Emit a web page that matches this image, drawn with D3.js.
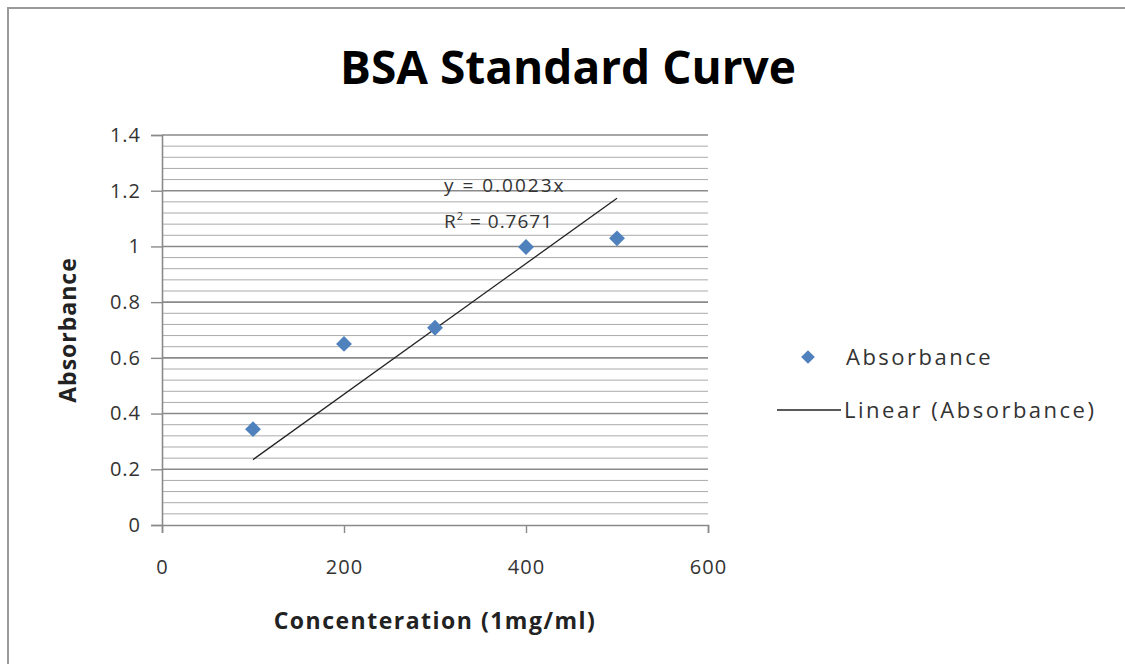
<!DOCTYPE html>
<html>
<head>
<meta charset="utf-8">
<script src="https://cdn.jsdelivr.net/npm/d3@7"></script>
<style>
  body { margin: 0; background: #fff; }
  svg { display: block; font-family: "Open Sans", sans-serif; }
</style>
</head>
<body>
<div id="chart"></div>
<script>
// data
const concentrations = [100, 200, 300, 400, 500];
const absorbance = [0.344, 0.65, 0.708, 0.998, 1.029];
const xTicks = [0, 200, 400, 600];
const yTicks = [0, 0.2, 0.4, 0.6, 0.8, 1, 1.2, 1.4];
const rSquared = "0.7671";

const W = 1125, H = 664;
const margin = { top: 135, left: 162, right: 417, bottom: 139 };
const width = W - margin.left - margin.right,
      height = H - margin.top - margin.bottom;

const svg = d3.select("#chart").append("svg")
    .attr("width", W).attr("height", H);

// outer chart border (runs off right/bottom)
svg.append("path")
    .attr("d", "M8,700 L8,8 L1140,8")
    .attr("fill", "none").attr("stroke", "#9a9a9a").attr("stroke-width", 2);

svg.append("text")
    .attr("x", 568).attr("y", 84)
    .attr("text-anchor", "middle")
    .style("font-size", "46px").style("font-weight", "bold")
    .text("BSA Standard Curve");

const g = svg.append("g").attr("transform", `translate(${margin.left},${margin.top})`);

const x = d3.scaleLinear().domain([0, 600]).range([0, width]);
const y = d3.scaleLinear().domain([0, 1.4]).range([height, 0]);

// minor gridlines every 0.04
const minor = d3.range(0, 1.4001, 0.04).filter(v => Math.abs(v / 0.2 - Math.round(v / 0.2)) > 1e-6);
g.append("g").selectAll("line").data(minor).enter().append("line")
    .attr("x1", 0).attr("x2", width)
    .attr("y1", d => y(d)).attr("y2", d => y(d))
    .attr("stroke", "#aaaaaa").attr("stroke-width", 1);

// major gridlines
g.append("g").selectAll("line").data(yTicks.slice(1)).enter().append("line")
    .attr("x1", 0).attr("x2", width)
    .attr("y1", d => y(d)).attr("y2", d => y(d))
    .attr("stroke", "#8a8a8a").attr("stroke-width", 1.6);

const xAxis = g.append("g").attr("transform", `translate(0,${height})`)
    .call(d3.axisBottom(x).tickValues(xTicks).tickSize(8).tickPadding(27).tickFormat(d3.format("d")));
const yAxis = g.append("g")
    .call(d3.axisLeft(y).tickValues(yTicks).tickSize(11).tickPadding(10).tickFormat(d => d3.format("")(+d.toFixed(1))));

[xAxis, yAxis].forEach(a => {
  a.select(".domain").attr("stroke", "#8a8a8a").attr("stroke-width", 1.6);
  a.selectAll(".tick line").attr("stroke", "#8a8a8a").attr("stroke-width", 1.4);
  a.selectAll("text").style("font-size", "20px").style("letter-spacing", "1px")
    .style("font-family", "Open Sans, sans-serif").attr("fill", "#333");
});

// linear trend through origin
const slope = d3.sum(concentrations, (c, i) => c * absorbance[i]) / d3.sum(concentrations, c => c * c);
const xMin = d3.min(concentrations), xMax = d3.max(concentrations);
g.append("line")
    .attr("x1", x(xMin)).attr("y1", y(slope * xMin))
    .attr("x2", x(xMax)).attr("y2", y(slope * xMax))
    .attr("stroke", "#222").attr("stroke-width", 1.3);

const diamond = d3.symbol().type(d3.symbolDiamond2).size(160);
g.append("g").selectAll("path").data(concentrations).enter().append("path")
    .attr("d", diamond)
    .attr("transform", (d, i) => `translate(${x(d)},${y(absorbance[i])})`)
    .attr("fill", "#4f81bd");

// equation label
const eqX = x(xMax) - 173, eqY = y(slope * xMax);
g.append("text")
    .attr("x", eqX).attr("y", eqY - 6)
    .style("font-size", "19px").style("letter-spacing", "2px").attr("fill", "#333")
    .text("y = " + slope.toFixed(4) + "x");
const r2 = g.append("text")
    .attr("x", eqX).attr("y", eqY + 30)
    .style("font-size", "19px").style("letter-spacing", "1px").attr("fill", "#333");
r2.append("tspan").text("R");
r2.append("tspan").attr("dy", -8).style("font-size", "11px").text("2");
r2.append("tspan").attr("dy", 8).text(" = " + rSquared);

// axis titles
svg.append("text")
    .attr("x", margin.left + width / 2).attr("y", 629)
    .attr("text-anchor", "middle")
    .style("font-size", "23px").style("font-weight", "bold").style("letter-spacing", "1.5px").attr("fill", "#222")
    .text("Concenteration (1mg/ml)");
svg.append("text")
    .attr("transform", "translate(76,330) rotate(-90)")
    .attr("text-anchor", "middle")
    .style("font-size", "23px").style("font-weight", "bold").style("letter-spacing", "1px").attr("fill", "#222")
    .text("Absorbance");

// legend
const lg = svg.append("g").attr("transform", "translate(808,357)");
lg.append("path").attr("d", d3.symbol().type(d3.symbolDiamond2).size(120)).attr("fill", "#4f81bd");
lg.append("text").attr("x", 38).attr("y", 8)
    .style("font-size", "22px").style("letter-spacing", "2.5px").attr("fill", "#333")
    .text("Absorbance");
lg.append("line").attr("x1", -31).attr("x2", 33).attr("y1", 53).attr("y2", 53)
    .attr("stroke", "#222").attr("stroke-width", 1.3);
lg.append("text").attr("x", 36).attr("y", 61)
    .style("font-size", "22px").style("letter-spacing", "2.5px").attr("fill", "#333")
    .text("Linear (Absorbance)");
</script>
</body>
</html>
